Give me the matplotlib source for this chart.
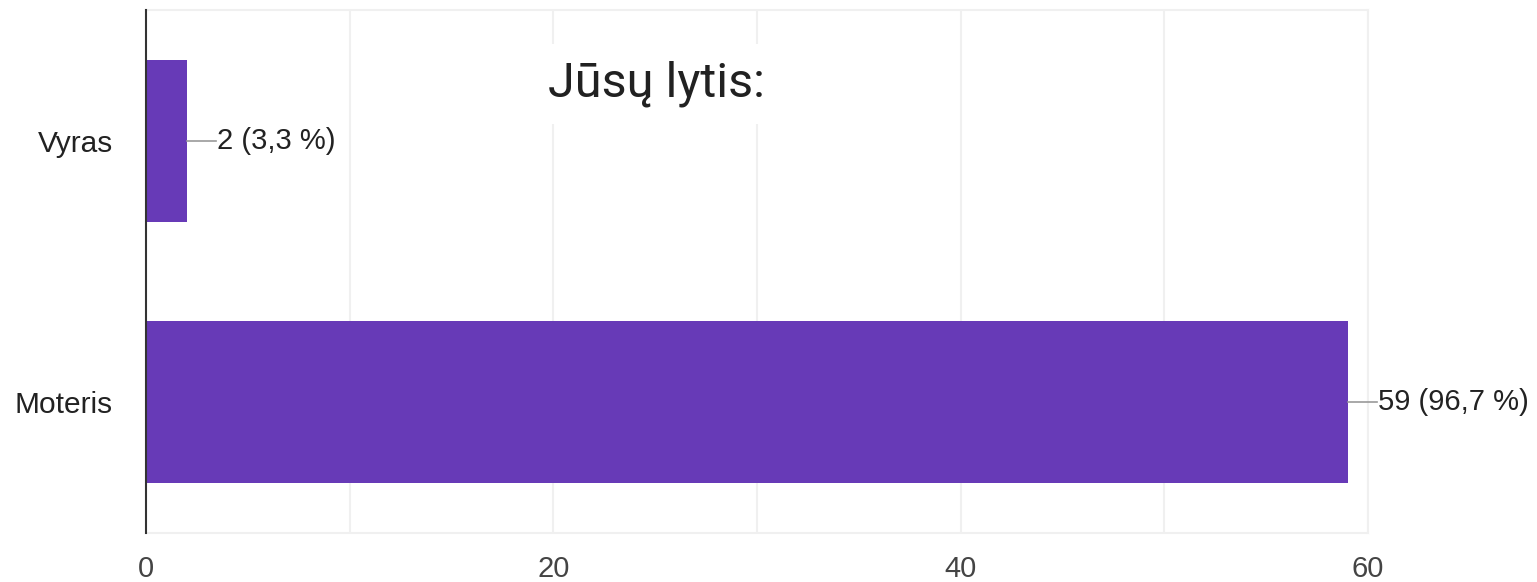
import matplotlib.pyplot as plt

categories = ["Vyras", "Moteris"]
counts = [2, 59]
percents = ["3,3", "96,7"]
xticks = [0, 20, 40, 60]
minor_grid = [10, 30, 50]

fig = plt.figure(figsize=(15.37, 5.82), dpi=100)
ax = fig.add_axes([146 / 1537, 1 - 533 / 582, (1368 - 146) / 1537, 523 / 582])

pos = list(range(len(categories)))
ax.barh(pos, counts, height=0.62, color="#673ab7", zorder=3)

ax.set_xlim(0, 60)
ax.set_ylim(1.5, -0.5)

for x in xticks[1:] + minor_grid:
    ax.axvline(x, color="#f0f0f0", lw=1.5, zorder=1)

ax.set_xticks(xticks)
ax.set_xticklabels([str(t) for t in xticks], fontsize=21, color="#444444",
                   family="Liberation Sans")
ax.tick_params(axis="x", length=0, pad=16)
ax.set_yticks(pos)
ax.set_yticklabels(categories, fontsize=21.5, color="#222222", family="Liberation Sans")
ax.tick_params(axis="y", length=0, pad=24)

for s in ["top", "right", "bottom"]:
    ax.spines[s].set_color("#f0f0f0")
    ax.spines[s].set_linewidth(1.5)
ax.spines["left"].set_color("#333333")
ax.spines["left"].set_linewidth(1.5)
ax.spines["left"].set_zorder(4)

for p, c, pc in zip(pos, counts, percents):
    ax.plot([c, c + 1.45], [p, p], color="#999999", lw=1.2, zorder=3, clip_on=False)
    ax.text(c + 1.5, p, f"{c} ({pc} %)", va="center", ha="left", fontsize=21,
            color="#222222", family="Liberation Sans", clip_on=False)

fig.text(656 / 1537, 1 - 84 / 582, "Jūsų lytis:", ha="center", va="center",
         fontsize=35, color="#212121", family="Roboto",
         bbox=dict(facecolor="white", edgecolor="none", pad=12))

fig.savefig("out.png", dpi=100, facecolor="white")
